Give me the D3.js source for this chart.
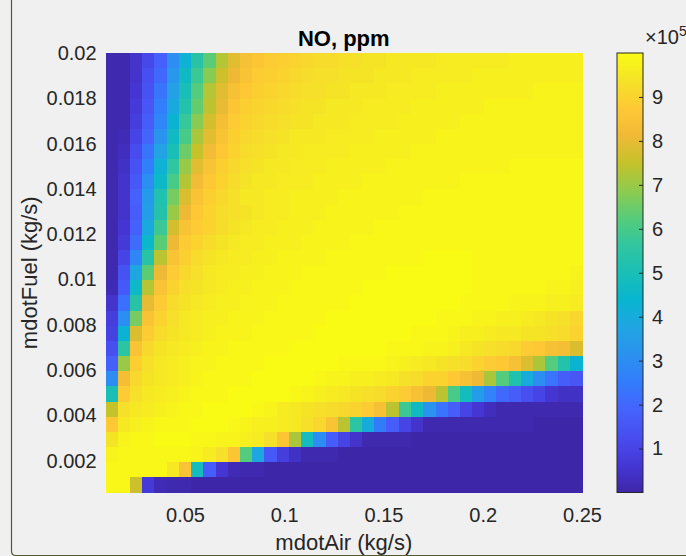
<!DOCTYPE html>
<html>
<head>
<meta charset="utf-8">
<script src="https://cdn.jsdelivr.net/npm/d3@7"></script>
<style>
  body { margin: 0; background: #f0f0f0; }
  svg { display: block; font-family: "Liberation Sans", Arial, Helvetica, sans-serif; }
</style>
</head>
<body>
<div id="chart"></div>
<script>
    // grid edges (pcolor corners)
    var mdotAir = [0.0100, 0.0162, 0.0223, 0.0285, 0.0346, 0.0408, 0.0469, 0.0531, 0.0592, 0.0654,
                   0.0715, 0.0777, 0.0838, 0.0900, 0.0962, 0.1023, 0.1085, 0.1146, 0.1208, 0.1269,
                   0.1331, 0.1392, 0.1454, 0.1515, 0.1577, 0.1638, 0.1700, 0.1762, 0.1823, 0.1885,
                   0.1946, 0.2008, 0.2069, 0.2131, 0.2192, 0.2254, 0.2315, 0.2377, 0.2438, 0.2500];

    var mdotFuel = [0.00060, 0.00127, 0.00194, 0.00261, 0.00328, 0.00395, 0.00461, 0.00528, 0.00595, 0.00662,
                    0.00729, 0.00796, 0.00863, 0.00930, 0.00997, 0.01063, 0.01130, 0.01197, 0.01264, 0.01331,
                    0.01398, 0.01465, 0.01532, 0.01599, 0.01666, 0.01732, 0.01799, 0.01866, 0.01933, 0.02000];

    // NO in units of 1e5 ppm, rows from highest mdotFuel (top) down to lowest
    var noPpm = [
      [0.1,0.1,0.5,1.1,1.8,3.0,4.2,5.4,6.3,7.3, 7.9,8.4,8.6,8.8,8.9,9.0,9.1,9.2,9.2,9.3, 9.3,9.4,9.4,9.5,9.5,9.5,9.5,9.6,9.6,9.6, 9.6,9.6,9.6,9.7,9.7,9.7,9.7,9.7,9.7],
      [0.1,0.1,0.5,1.3,2.0,3.3,4.7,5.8,6.8,7.6, 8.1,8.5,8.8,8.9,9.0,9.1,9.2,9.3,9.3,9.4, 9.4,9.4,9.5,9.5,9.5,9.6,9.6,9.6,9.6,9.6, 9.7,9.7,9.7,9.7,9.7,9.7,9.7,9.7,9.7],
      [0.1,0.1,0.6,1.4,2.3,3.6,5.0,6.2,7.3,7.9, 8.4,8.7,8.9,9.0,9.1,9.2,9.3,9.3,9.4,9.4, 9.5,9.5,9.5,9.6,9.6,9.6,9.6,9.7,9.7,9.7, 9.7,9.7,9.7,9.7,9.7,9.8,9.8,9.8,9.8],
      [0.1,0.1,0.7,1.5,2.6,3.9,5.3,6.4,7.4,8.0, 8.6,8.9,9.0,9.1,9.2,9.3,9.4,9.4,9.5,9.5, 9.5,9.6,9.6,9.6,9.6,9.7,9.7,9.7,9.7,9.7, 9.7,9.8,9.8,9.8,9.8,9.8,9.8,9.8,9.8],
      [0.1,0.1,0.8,1.7,2.8,4.3,5.7,6.8,7.7,8.3, 8.8,9.0,9.1,9.2,9.3,9.4,9.4,9.5,9.5,9.5, 9.6,9.6,9.6,9.6,9.7,9.7,9.7,9.7,9.7,9.8, 9.8,9.8,9.8,9.8,9.8,9.8,9.8,9.8,9.8],
      [0.1,0.2,1.0,1.9,3.2,4.7,6.0,7.2,7.9,8.5, 8.9,9.1,9.2,9.3,9.4,9.5,9.5,9.5,9.6,9.6, 9.6,9.6,9.7,9.7,9.7,9.7,9.7,9.8,9.8,9.8, 9.8,9.8,9.8,9.8,9.8,9.8,9.8,9.8,9.8],
      [0.1,0.3,1.2,2.3,3.7,5.0,6.5,7.5,8.2,8.7, 9.0,9.2,9.3,9.4,9.5,9.5,9.6,9.6,9.6,9.6, 9.7,9.7,9.7,9.7,9.7,9.8,9.8,9.8,9.8,9.8, 9.8,9.8,9.8,9.8,9.8,9.8,9.8,9.8,9.8],
      [0.1,0.4,1.4,2.6,4.2,5.6,7.0,7.9,8.5,8.9, 9.1,9.3,9.4,9.5,9.5,9.6,9.6,9.6,9.7,9.7, 9.7,9.7,9.7,9.8,9.8,9.8,9.8,9.8,9.8,9.8, 9.8,9.8,9.8,9.9,9.9,9.9,9.9,9.9,9.9],
      [0.1,0.5,1.6,3.0,4.6,6.0,7.3,8.2,8.7,9.0, 9.2,9.4,9.5,9.5,9.6,9.6,9.6,9.7,9.7,9.7, 9.7,9.8,9.8,9.8,9.8,9.8,9.8,9.8,9.8,9.9, 9.9,9.9,9.9,9.9,9.9,9.9,9.9,9.9,9.9],
      [0.1,0.5,1.8,3.4,5.2,6.6,7.8,8.5,8.9,9.1, 9.3,9.5,9.5,9.6,9.6,9.7,9.7,9.7,9.7,9.8, 9.8,9.8,9.8,9.8,9.8,9.8,9.9,9.9,9.9,9.9, 9.9,9.9,9.9,9.9,9.9,9.9,9.9,9.9,9.9],
      [0.1,0.5,1.7,3.5,5.3,7.0,8.1,8.7,9.0,9.2, 9.3,9.4,9.5,9.6,9.6,9.7,9.7,9.7,9.8,9.8, 9.8,9.8,9.8,9.8,9.9,9.9,9.9,9.9,9.9,9.9, 9.9,9.9,9.9,9.9,9.9,9.9,9.9,9.9,9.9],
      [0.1,0.6,1.8,3.9,5.8,7.7,8.5,8.8,9.0,9.2, 9.4,9.5,9.6,9.6,9.7,9.7,9.7,9.8,9.8,9.8, 9.8,9.8,9.9,9.9,9.9,9.9,9.9,9.9,9.9,9.9, 9.9,9.9,9.9,9.9,9.9,9.9,9.9,9.9,9.9],
      [0.1,0.7,2.1,4.5,6.3,8.1,8.8,9.0,9.2,9.4, 9.5,9.6,9.6,9.7,9.7,9.7,9.8,9.8,9.8,9.8, 9.9,9.9,9.9,9.9,9.9,9.9,9.9,9.9,9.9,9.9, 9.9,9.9,9.9,9.9,9.9,9.9,9.9,9.9,9.9],
      [0.1,1.0,2.8,5.4,7.4,8.5,8.9,9.2,9.4,9.5, 9.6,9.6,9.7,9.7,9.8,9.8,9.8,9.8,9.9,9.9, 9.9,9.9,9.9,9.9,9.9,9.9,10,10,10,10, 9.9,9.9,9.9,9.9,9.9,9.9,9.9,9.9,9.9],
      [0.1,1.4,3.8,6.3,8.1,8.8,9.1,9.3,9.5,9.6, 9.6,9.7,9.7,9.8,9.8,9.8,9.9,9.9,9.9,9.9, 9.9,9.9,9.9,10,10,10,10,10,10,10, 9.9,9.9,9.9,9.9,9.9,9.9,9.9,9.9,9.8],
      [0.2,1.6,4.6,7.3,8.5,9.0,9.3,9.4,9.5,9.6, 9.7,9.7,9.8,9.8,9.8,9.9,9.9,9.9,9.9,9.9, 9.9,10,10,10,10,10,10,10,10,10, 9.9,9.9,9.9,9.9,9.9,9.9,9.8,9.8,9.7],
      [0.5,2.2,5.4,8.0,8.8,9.2,9.4,9.5,9.6,9.7, 9.7,9.8,9.8,9.8,9.9,9.9,9.9,9.9,9.9,9.9, 10,10,10,10,10,10,10,10,10,9.9, 9.9,9.9,9.9,9.8,9.8,9.8,9.7,9.7,9.6],
      [0.8,3.0,6.6,8.5,9.0,9.3,9.5,9.6,9.7,9.7, 9.8,9.8,9.8,9.9,9.9,9.9,9.9,9.9,10,10, 10,10,10,10,10,10,10,9.9,9.9,9.9, 9.8,9.8,9.7,9.7,9.6,9.5,9.4,9.3,9.1],
      [0.9,4.3,7.8,8.8,9.2,9.4,9.5,9.6,9.7,9.8, 9.8,9.8,9.9,9.9,9.9,9.9,9.9,10,10,10, 10,10,10,10,10,9.9,9.9,9.9,9.8,9.7, 9.7,9.6,9.5,9.5,9.4,9.4,9.3,9.2,9.0],
      [1.3,5.5,8.5,9.1,9.4,9.5,9.6,9.7,9.8,9.8, 9.9,9.9,9.9,9.9,9.9,10,10,10,10,10, 10,10,10,9.9,9.9,9.9,9.8,9.8,9.7,9.5, 9.4,9.3,9.2,9.1,8.8,8.7,8.4,8.3,7.8],
      [1.8,7.0,8.9,9.3,9.5,9.6,9.7,9.8,9.8,9.9, 9.9,9.9,9.9,10,10,10,10,10,10,9.9, 9.9,9.9,9.9,9.8,9.7,9.6,9.5,9.4,9.3,9.2, 9.0,8.8,8.7,8.4,7.8,7.2,6.2,5.3,4.3],
      [3.0,8.3,9.1,9.4,9.5,9.6,9.7,9.8,9.9,9.9, 9.9,9.9,10,10,10,10,10,9.9,9.8,9.8, 9.7,9.7,9.6,9.5,9.3,9.2,9.0,9.0,8.7,8.4, 8.1,7.2,6.2,5.2,4.0,3.0,2.3,1.7,1.5],
      [5.0,8.8,9.3,9.5,9.6,9.7,9.8,9.9,9.9,9.9, 10,10,10,10,10,9.9,9.8,9.7,9.6,9.5, 9.4,9.3,9.2,9.0,8.8,8.4,8.1,7.4,6.0,4.8, 3.5,2.7,2.0,1.7,1.3,1.0,0.6,0.4,0.4],
      [7.5,9.3,9.5,9.6,9.7,9.8,9.9,9.9,10,10, 10,10,9.9,9.8,9.6,9.5,9.4,9.3,9.2,9.1, 9.0,8.8,8.4,7.4,5.8,4.7,3.2,2.3,1.7,1.0, 0.6,0.3,0.1,0.1,0.1,0.1,0.1,0.1,0.1],
      [8.7,9.5,9.7,9.8,9.9,9.9,9.9,10,10,10, 9.9,9.8,9.7,9.7,9.6,9.5,9.3,9.1,8.5,7.4, 5.5,4.0,2.5,1.7,1.0,0.5,0.1,0.1,0.1,0.1, 0.1,0.1,0.1,0.1,0.1,0.0,0.0,0.0,0.0],
      [9.4,9.8,9.9,9.9,10,10,10,9.9,9.9,9.8, 9.8,9.7,9.6,9.3,8.6,7.2,4.8,3.0,1.7,1.0, 0.5,0.1,0.1,0.1,0.1,0.0,0.0,0.0,0.0,0.0, 0.0,0.0,0.0,0.0,0.0,0.0,0.0,0.0,0.0],
      [9.8,9.9,9.9,9.9,9.9,9.9,9.9,9.8,9.6,9.3, 8.6,6.2,3.8,1.6,0.8,0.4,0.1,0.1,0.1,0.0, 0.0,0.0,0.0,0.0,0.0,0.0,0.0,0.0,0.0,0.0, 0.0,0.0,0.0,0.0,0.0,0.0,0.0,0.0,0.0],
      [9.9,9.9,9.9,9.9,9.9,9.5,8.5,4.8,1.7,0.6, 0.2,0.1,0.1,0.0,0.0,0.0,0.0,0.0,0.0,0.0, 0.0,0.0,0.0,0.0,0.0,0.0,0.0,0.0,0.0,0.0, 0.0,0.0,0.0,0.0,0.0,0.0,0.0,0.0,0.0],
      [9.9,9.9,7.6,0.7,0.2,0.1,0.1,0.0,0.0,0.0, 0.0,0.0,0.0,0.0,0.0,0.0,0.0,0.0,0.0,0.0, 0.0,0.0,0.0,0.0,0.0,0.0,0.0,0.0,0.0,0.0, 0.0,0.0,0.0,0.0,0.0,0.0,0.0,0.0,0.0]
    ];

    var airTicks = [0.05, 0.1, 0.15, 0.2, 0.25];
    var fuelTicks = [0.002, 0.004, 0.006, 0.008, 0.01, 0.012, 0.014, 0.016, 0.018, 0.02];
    var cbarTicks = [1, 2, 3, 4, 5, 6, 7, 8, 9];

    // parula colormap samples
    var parula = ["#3e26a8", "#4537d5", "#484df0", "#4563fd", "#327cfc", "#2b91ef", "#20a5e3", "#08b5d0",
                  "#19bfb6", "#31c69f", "#57cc7a", "#8fcb4e", "#c5c22a", "#f0ba36", "#fec934", "#f5e327", "#f9fb15"];

    var svg = d3.select("#chart")
                .append("svg")
                .attr("width", 686)
                .attr("height", 556);

    var plot = { left: 105.6, right: 582, top: 53, bottom: 492.5 };

    var xScale = d3.scaleLinear()
                   .domain([mdotAir[0], mdotAir[mdotAir.length - 1]])
                   .range([plot.left, plot.right]);

    var yScale = d3.scaleLinear()
                   .domain([mdotFuel[0], mdotFuel[mdotFuel.length - 1]])
                   .range([plot.bottom, plot.top]);

    var extent = d3.extent(noPpm.flat());
    var color = d3.scaleSequential(d3.piecewise(d3.interpolateRgb, parula))
                  .domain(extent);

    // window frame edge
    svg.append("path")
       .attr("d", "M11.5,0V551Q11.5,555.5,16,555.5H686")
       .attr("fill", "none")
       .attr("stroke", "#555c2c")
       .attr("stroke-width", 1.2);

    var nRows = noPpm.length;
    var cells = [];
    noPpm.forEach(function(row, r) {
      row.forEach(function(v, c) {
        cells.push({ r: r, c: c, v: v });
      });
    });

    svg.append("g")
       .attr("shape-rendering", "crispEdges")
       .selectAll("rect")
       .data(cells)
       .enter()
       .append("rect")
       .attr("x", d => xScale(mdotAir[d.c]))
       .attr("width", d => xScale(mdotAir[d.c + 1]) - xScale(mdotAir[d.c]) + 0.6)
       .attr("y", d => yScale(mdotFuel[nRows - d.r]))
       .attr("height", d => yScale(mdotFuel[nRows - d.r - 1]) - yScale(mdotFuel[nRows - d.r]) + 0.6)
       .attr("fill", d => color(d.v));

    function styleAxis(g) {
      g.attr("font-size", 20).attr("font-family", null);
      g.select(".domain").remove();
      g.selectAll("text").attr("fill", "#262626");
    }

    svg.append("g")
       .attr("transform", `translate(0, ${plot.bottom})`)
       .call(d3.axisBottom(xScale).tickValues(airTicks).tickSize(0).tickPadding(15)
               .tickFormat(d => String(d)))
       .call(styleAxis);

    svg.append("g")
       .attr("transform", `translate(${plot.left}, 0)`)
       .call(d3.axisLeft(yScale).tickValues(fuelTicks).tickSize(0).tickPadding(9)
               .tickFormat(d => String(+d.toFixed(3))))
       .call(styleAxis);

    svg.append("text")
       .attr("x", (plot.left + plot.right) / 2)
       .attr("y", 46)
       .attr("text-anchor", "middle")
       .attr("font-size", 22)
       .attr("font-weight", "bold")
       .attr("fill", "#000")
       .text("NO, ppm");

    svg.append("text")
       .attr("x", (plot.left + plot.right) / 2)
       .attr("y", 550)
       .attr("text-anchor", "middle")
       .attr("font-size", 22)
       .attr("fill", "#262626")
       .text("mdotAir (kg/s)");

    svg.append("text")
       .attr("transform", `translate(37, ${(plot.top + plot.bottom) / 2}) rotate(-90)`)
       .attr("text-anchor", "middle")
       .attr("font-size", 22)
       .attr("fill", "#262626")
       .text("mdotFuel (kg/s)");

    // colorbar
    var cb = { left: 617, right: 643 };
    var cbScale = d3.scaleLinear().domain(extent).range([plot.bottom, plot.top]);

    var grad = svg.append("defs").append("linearGradient")
                  .attr("id", "parulaGrad")
                  .attr("x1", 0).attr("y1", 1).attr("x2", 0).attr("y2", 0);
    grad.selectAll("stop")
        .data(parula)
        .enter()
        .append("stop")
        .attr("offset", (d, i) => i / (parula.length - 1))
        .attr("stop-color", d => d);

    svg.append("rect")
       .attr("x", cb.left)
       .attr("y", plot.top)
       .attr("width", cb.right - cb.left)
       .attr("height", plot.bottom - plot.top)
       .attr("fill", "url(#parulaGrad)")
       .attr("stroke", "#262626")
       .attr("stroke-width", 1);

    svg.append("g")
       .attr("transform", `translate(${cb.right}, 0)`)
       .call(d3.axisRight(cbScale).tickValues(cbarTicks).tickSize(-4).tickPadding(9))
       .call(styleAxis)
       .call(g => g.selectAll("line").attr("stroke", "#262626"));

    var expo = svg.append("text")
                  .attr("x", 645)
                  .attr("y", 44)
                  .attr("font-size", 20)
                  .attr("fill", "#262626");
    expo.append("tspan").text("\u00d710");
    expo.append("tspan").attr("font-size", 14).attr("dy", -8).text("5");
</script>
</body>
</html>
